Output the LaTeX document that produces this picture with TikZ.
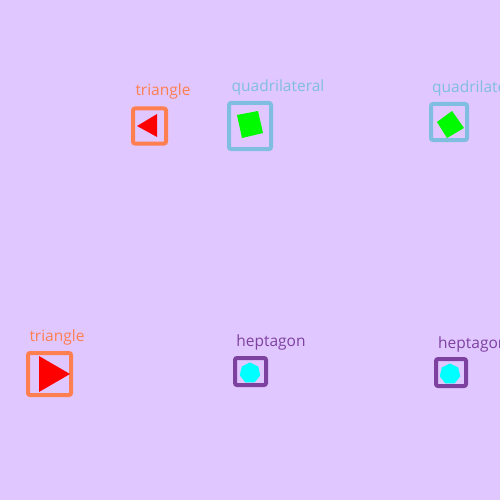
\documentclass[tikz,border=0pt]{standalone}
\usepackage{fontspec}
\setmainfont{Open Sans}
\usetikzlibrary{shapes.geometric}
\definecolor{bg}{RGB}{225,199,255}
\definecolor{coral}{RGB}{255,127,80}
\definecolor{sky}{RGB}{128,190,225}
\definecolor{purp}{RGB}{125,65,160}
\definecolor{red1}{RGB}{255,0,0}
\definecolor{grn}{RGB}{0,250,0}
\definecolor{cyn}{RGB}{0,255,255}
\tikzset{
  frame/.style={draw=#1, line width=4pt, rounded corners=2pt, inner sep=0pt},
  lbl/.style={text=#1, font=\fontsize{15.5}{15.5}\selectfont, inner sep=0pt},
  hepta/.style={regular polygon, regular polygon sides=7, fill=cyn, draw=none, minimum size=21pt, inner sep=0pt}
}
\begin{document}
\begin{tikzpicture}[x=1pt,y=-1pt]
\fill[bg] (0,0) rectangle (500,500);
\useasboundingbox (0,0) rectangle (500,500);
\clip (0,0) rectangle (500,500);
% boxes
\node[frame=coral, minimum width=33pt, minimum height=35pt] (b1) at (149.5,126) {};
\node[frame=sky, minimum width=42pt, minimum height=46pt] (b2) at (250,126) {};
\node[frame=sky, minimum width=36pt, minimum height=36pt] (b3) at (449,122) {};
\node[frame=coral, minimum width=43pt, minimum height=42pt] (b4) at (49.5,374) {};
\node[frame=purp, minimum width=31pt, minimum height=27pt] (b5) at (250.5,371.5) {};
\node[frame=purp, minimum width=30pt, minimum height=27pt] (b6) at (451,372.5) {};
% shapes
\fill[red1] (137,126) -- (157,114) -- (157,137) -- cycle;
\fill[red1] (39,356) -- (70,374) -- (39,392) -- cycle;
\fill[grn] (237,115) -- (258,111) -- (263,133) -- (242,138) -- cycle;
\fill[grn] (452,111) -- (464,128) -- (447,138) -- (437,122) -- cycle;
\node[hepta] (h5) at (250,373) {};
\node[hepta] (h6) at (450,374) {};
% labels
\node[lbl=coral] (t1) at (163,91) {triangle};
\node[lbl=sky] (t2) at (278,87) {quadrilateral};
\node[lbl=sky, anchor=west] (t3) at (432,88) {quadrilateral};
\node[lbl=coral] (t4) at (57,337) {triangle};
\node[lbl=purp] (t5) at (271,342) {heptagon};
\node[lbl=purp, anchor=west] (t6) at (438,344) {heptagon};
\end{tikzpicture}
\end{document}
